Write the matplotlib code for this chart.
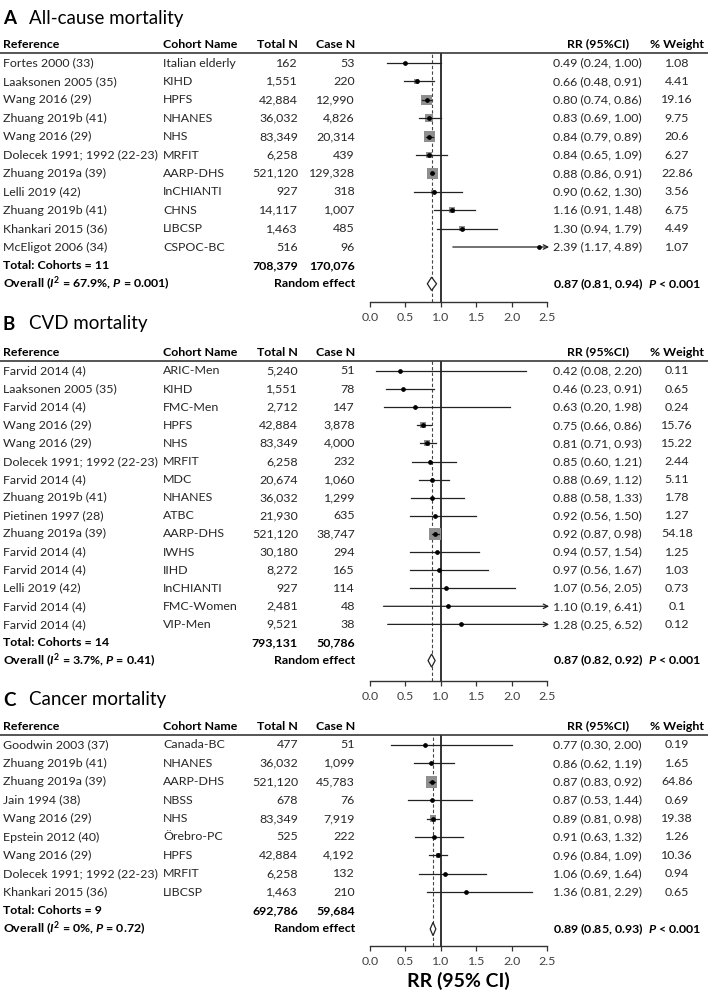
import numpy as np
import matplotlib.pyplot as plt

plt.rcParams['font.family'] = ['Lato', 'DejaVu Sans']
plt.rcParams['mathtext.fontset'] = 'custom'
plt.rcParams['mathtext.rm'] = 'Lato:bold'
plt.rcParams['mathtext.it'] = 'Lato:bold:italic'

# A - all-cause mortality
a_ref = ["Fortes 2000 (33)", "Laaksonen 2005 (35)", "Wang 2016 (29)", "Zhuang 2019b (41)",
         "Wang 2016 (29)", "Dolecek 1991; 1992 (22-23)", "Zhuang 2019a (39)", "Lelli 2019 (42)",
         "Zhuang 2019b (41)", "Khankari 2015 (36)", "McEligot 2006 (34)"]
a_cohort = ["Italian elderly", "KIHD", "HPFS", "NHANES", "NHS", "MRFIT", "AARP-DHS",
            "InCHIANTI", "CHNS", "LIBCSP", "CSPOC-BC"]
a_total = [162, 1551, 42884, 36032, 83349, 6258, 521120, 927, 14117, 1463, 516]
a_case = [53, 220, 12990, 4826, 20314, 439, 129328, 318, 1007, 485, 96]
a_rr = [0.49, 0.66, 0.80, 0.83, 0.84, 0.84, 0.88, 0.90, 1.16, 1.30, 2.39]
a_lo = [0.24, 0.48, 0.74, 0.69, 0.79, 0.65, 0.86, 0.62, 0.91, 0.94, 1.17]
a_hi = [1.00, 0.91, 0.86, 1.00, 0.89, 1.09, 0.91, 1.30, 1.48, 1.79, 4.89]
a_w = [1.08, 4.41, 19.16, 9.75, 20.6, 6.27, 22.86, 3.56, 6.75, 4.49, 1.07]
a_sum = dict(total=708379, case=170076, rr=0.87, lo=0.81, hi=0.94, i2="67.9%", p_het="0.001", k=11)

# B - CVD mortality
b_ref = ["Farvid 2014 (4)", "Laaksonen 2005 (35)", "Farvid 2014 (4)", "Wang 2016 (29)",
         "Wang 2016 (29)", "Dolecek 1991; 1992 (22-23)", "Farvid 2014 (4)", "Zhuang 2019b (41)",
         "Pietinen 1997 (28)", "Zhuang 2019a (39)", "Farvid 2014 (4)", "Farvid 2014 (4)",
         "Lelli 2019 (42)", "Farvid 2014 (4)", "Farvid 2014 (4)"]
b_cohort = ["ARIC-Men", "KIHD", "FMC-Men", "HPFS", "NHS", "MRFIT", "MDC", "NHANES", "ATBC",
            "AARP-DHS", "IWHS", "IIHD", "InCHIANTI", "FMC-Women", "VIP-Men"]
b_total = [5240, 1551, 2712, 42884, 83349, 6258, 20674, 36032, 21930, 521120, 30180, 8272,
           927, 2481, 9521]
b_case = [51, 78, 147, 3878, 4000, 232, 1060, 1299, 635, 38747, 294, 165, 114, 48, 38]
b_rr = [0.42, 0.46, 0.63, 0.75, 0.81, 0.85, 0.88, 0.88, 0.92, 0.92, 0.94, 0.97, 1.07, 1.10, 1.28]
b_lo = [0.08, 0.23, 0.20, 0.66, 0.71, 0.60, 0.69, 0.58, 0.56, 0.87, 0.57, 0.56, 0.56, 0.19, 0.25]
b_hi = [2.20, 0.91, 1.98, 0.86, 0.93, 1.21, 1.12, 1.33, 1.50, 0.98, 1.54, 1.67, 2.05, 6.41, 6.52]
b_w = [0.11, 0.65, 0.24, 15.76, 15.22, 2.44, 5.11, 1.78, 1.27, 54.18, 1.25, 1.03, 0.73, 0.1, 0.12]
b_sum = dict(total=793131, case=50786, rr=0.87, lo=0.82, hi=0.92, i2="3.7%", p_het="0.41", k=14)

# C - cancer mortality
c_ref = ["Goodwin 2003 (37)", "Zhuang 2019b (41)", "Zhuang 2019a (39)", "Jain 1994 (38)",
         "Wang 2016 (29)", "Epstein 2012 (40)", "Wang 2016 (29)", "Dolecek 1991; 1992 (22-23)",
         "Khankari 2015 (36)"]
c_cohort = ["Canada-BC", "NHANES", "AARP-DHS", "NBSS", "NHS", "Örebro-PC", "HPFS", "MRFIT", "LIBCSP"]
c_total = [477, 36032, 521120, 678, 83349, 525, 42884, 6258, 1463]
c_case = [51, 1099, 45783, 76, 7919, 222, 4192, 132, 210]
c_rr = [0.77, 0.86, 0.87, 0.87, 0.89, 0.91, 0.96, 1.06, 1.36]
c_lo = [0.30, 0.62, 0.83, 0.53, 0.81, 0.63, 0.84, 0.69, 0.81]
c_hi = [2.00, 1.19, 0.92, 1.44, 0.98, 1.32, 1.09, 1.64, 2.29]
c_w = [0.19, 1.65, 64.86, 0.69, 19.38, 1.26, 10.36, 0.94, 0.65]
c_sum = dict(total=692786, case=59684, rr=0.89, lo=0.85, hi=0.93, i2="0%", p_het="0.72", k=9)

W, H = 709, 998
fig = plt.figure(figsize=(W / 100, H / 100), dpi=100)
bg = fig.add_axes([0, 0, 1, 1])
bg.set_xlim(0, W)
bg.set_ylim(H, 0)
bg.axis("off")

fs = 8.9
txt = "#262626"
X_REF, X_COH, X_TOT, X_CASE, X_RR, X_W = 3, 163, 298, 355, 553, 677
FX0, FX1 = 370, 547  # forest plot pixel span


def panel(letter, title, y_title, y_first, pitch, y_axis, refs, cohorts, totals, cases,
          rr, lo, hi, w, s, xlabel=False):
    y_head = y_first - 19
    y_line = y_first - 10
    bg.text(X_REF, y_title, letter, fontsize=13.5, fontweight="bold", va="center")
    bg.text(X_REF + 26, y_title, title, fontsize=13.5, va="center")
    for x, lab, ha in [(X_REF, "Reference", "left"), (X_COH, "Cohort Name", "left"),
                       (X_TOT, "Total N", "right"), (X_CASE, "Case N", "right"),
                       (598, "RR (95%CI)", "center"), (X_W, "% Weight", "center")]:
        bg.text(x, y_head, lab, fontsize=fs, fontweight="bold", ha=ha, va="center")
    bg.plot([0, 707], [y_line, y_line], color="#555555", lw=1.4)

    n = len(refs)
    for i in range(n):
        y = y_first + i * pitch
        bg.text(X_REF, y, refs[i], fontsize=fs, va="center", color=txt)
        bg.text(X_COH, y, cohorts[i], fontsize=fs, va="center", color=txt)
        bg.text(X_TOT, y, f"{totals[i]:,}", fontsize=fs, va="center", ha="right", color=txt)
        bg.text(X_CASE, y, f"{cases[i]:,}", fontsize=fs, va="center", ha="right", color=txt)
        bg.text(X_RR, y, f"{rr[i]:.2f} ({lo[i]:.2f}, {hi[i]:.2f})", fontsize=fs, va="center", color=txt)
        bg.text(X_W, y, f"{w[i]:g}", fontsize=fs, va="center", ha="center", color=txt)
    y_tot = y_first + n * pitch
    y_ov = y_first + (n + 1) * pitch
    bg.text(X_REF, y_tot, f"Total: Cohorts = {s['k']}", fontsize=fs, fontweight="bold", va="center")
    bg.text(X_TOT, y_tot, f"{s['total']:,}", fontsize=fs, fontweight="bold", va="center", ha="right")
    bg.text(X_CASE, y_tot, f"{s['case']:,}", fontsize=fs, fontweight="bold", va="center", ha="right")
    bg.text(X_REF, y_ov, f"Overall ($I^2$ = {s['i2']}, $P$ = {s['p_het']})", fontsize=fs,
            fontweight="bold", va="center")
    bg.text(X_CASE, y_ov, "Random effect", fontsize=fs, fontweight="bold", va="center", ha="right")
    bg.text(X_RR, y_ov, f"{s['rr']:.2f} ({s['lo']:.2f}, {s['hi']:.2f})  $P$ < 0.001", fontsize=fs,
            fontweight="bold", va="center")

    # forest plot axes
    ax = fig.add_axes([FX0 / W, 1 - y_axis / H, (FX1 - FX0) / W, (y_axis - y_line) / H])
    ax.patch.set_alpha(0)
    ax.set_xlim(0, 2.5)
    ax.set_ylim((y_axis - y_first) / pitch, (y_line - y_first) / pitch)
    for sp in ["left", "right", "top"]:
        ax.spines[sp].set_visible(False)
    ax.spines["bottom"].set_linewidth(1.0)
    ax.spines["bottom"].set_color("#333333")
    ax.set_yticks([])
    ax.set_xticks([0, 0.5, 1.0, 1.5, 2.0, 2.5])
    ax.set_xticklabels(["0.0", "0.5", "1.0", "1.5", "2.0", "2.5"])
    ax.tick_params(axis="x", length=3.5, width=0.9, color="#333333", labelsize=fs,
                   labelcolor="#404040", pad=4)
    if xlabel:
        ax.set_xlabel("RR (95% CI)", fontsize=14, fontweight="bold", labelpad=3)

    ax.axvline(1.0, color="#333333", lw=1.4, zorder=1)
    ax.axvline(s["rr"], color="#444444", lw=0.8, ls=(0, (3, 2)), zorder=1)

    rows = np.arange(n)
    wmax = max(w)
    side = 11.5 * np.sqrt(np.array(w) / wmax) * 0.72
    ax.scatter(rr, rows, marker="s", s=side ** 2, color="#8f8f8f", lw=0, zorder=2)
    for i in range(n):
        if hi[i] > 2.5:
            ax.annotate("", xy=(2.53, i), xytext=(lo[i], i), annotation_clip=False,
                        arrowprops=dict(arrowstyle="->", lw=0.9, color="#222222",
                                        shrinkA=0, shrinkB=0, mutation_scale=8))
        else:
            ax.plot([lo[i], hi[i]], [i, i], color="#222222", lw=0.9, zorder=3)
    ax.plot(rr, rows, "o", color="black", ms=2.4, zorder=4)

    yo = n + 1
    ax.fill([s["lo"], s["rr"], s["hi"], s["rr"]], [yo, yo - 0.36, yo, yo + 0.36],
            facecolor="white", edgecolor="#222222", lw=0.9, zorder=4)


panel("A", "All-cause mortality", 18, 63, 18.4, 302,
      a_ref, a_cohort, a_total, a_case, a_rr, a_lo, a_hi, a_w, a_sum)
panel("B", "CVD mortality", 324, 371, 18.1, 681,
      b_ref, b_cohort, b_total, b_case, b_rr, b_lo, b_hi, b_w, b_sum)
panel("C", "Cancer mortality", 700, 745, 18.4, 946,
      c_ref, c_cohort, c_total, c_case, c_rr, c_lo, c_hi, c_w, c_sum, xlabel=True)

fig.savefig("out.png", dpi=100)
